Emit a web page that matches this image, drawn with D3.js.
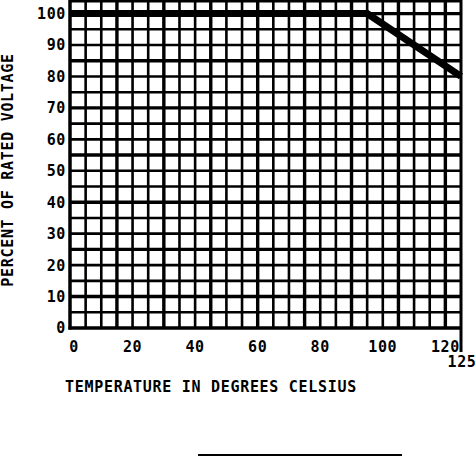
<!DOCTYPE html>
<html>
<head>
<meta charset="utf-8">
<script src="https://cdn.jsdelivr.net/npm/d3@7"></script>
<style>
  body { margin: 0; background: #fff; }
  text { font-family: "DejaVu Sans Mono", "Liberation Mono", monospace; font-weight: bold; fill: #000; }
</style>
</head>
<body>
<div id="chart"></div>
<script>
// Chart data
const tempTicks = [0, 20, 40, 60, 80, 100, 120];
const voltTicks = [0, 10, 20, 30, 40, 50, 60, 70, 80, 90, 100];
const deratingTemp = [0, 95, 125];
const deratingPct = [100, 100, 80];
const xTitle = "TEMPERATURE IN DEGREES CELSIUS";
const yTitle = "PERCENT OF RATED VOLTAGE";

let width = 476;
let height = 458;

let svg = d3.select('#chart')
    .append('svg')
    .attr('width', width)
    .attr('height', height)
    .style('background', '#fff');

// scales: 0..125 C across the grid, 0..104 % up to the top edge
let x = d3.scaleLinear().domain([0, 125]).range([70, 461]);
let y = d3.scaleLinear().domain([0, 104]).range([328, 1]);

// grid, every 5 units, every third line a bit heavier
let gridX = d3.range(5, 125, 5);
let gridY = d3.range(5, 101, 5);

svg.append('g').selectAll('line')
    .data(gridX)
    .enter()
    .append('line')
    .attr('x1', d => x(d))
    .attr('x2', d => x(d))
    .attr('y1', y(104) - 1)
    .attr('y2', y(0))
    .attr('stroke', '#000')
    .attr('stroke-width', d => d % 15 === 0 ? 3.4 : 2.6);

svg.append('g').selectAll('line')
    .data(gridY)
    .enter()
    .append('line')
    .attr('x1', x(0))
    .attr('x2', x(125))
    .attr('y1', d => y(d))
    .attr('y2', d => y(d))
    .attr('stroke', '#000')
    .attr('stroke-width', d => (d - 10) % 15 === 0 ? 3.4 : 2.6);

// top edge of the grid
svg.append('line')
    .attr('x1', x(0)).attr('x2', x(125))
    .attr('y1', y(104)).attr('y2', y(104))
    .attr('stroke', '#000').attr('stroke-width', 3);

// frame: left and bottom axes, right edge runs down past the axis for "125"
svg.append('line')
    .attr('x1', x(0)).attr('x2', x(0))
    .attr('y1', y(104) - 1).attr('y2', y(0) + 1.5)
    .attr('stroke', '#000').attr('stroke-width', 3.5);
svg.append('line')
    .attr('x1', x(0) - 1.5).attr('x2', x(125))
    .attr('y1', y(0)).attr('y2', y(0))
    .attr('stroke', '#000').attr('stroke-width', 3.5);
svg.append('line')
    .attr('x1', x(125)).attr('x2', x(125))
    .attr('y1', y(104) - 1).attr('y2', 352)
    .attr('stroke', '#000').attr('stroke-width', 3);

// derating curve
let line = d3.line()
    .x((d, i) => x(deratingTemp[i]))
    .y((d, i) => y(deratingPct[i]));

svg.append('path')
    .datum(deratingTemp)
    .attr('d', line)
    .attr('fill', 'none')
    .attr('stroke', '#000')
    .attr('stroke-width', 7)
    .attr('stroke-linejoin', 'miter');

// y tick labels
svg.append('g').selectAll('text')
    .data(voltTicks)
    .enter()
    .append('text')
    .attr('x', 66)
    .attr('y', d => y(d))
    .attr('dy', '0.36em')
    .attr('text-anchor', 'end')
    .attr('font-size', 15)
    .attr('letter-spacing', 0.6)
    .text(d => d);

// x tick labels
svg.append('g').selectAll('text')
    .data(tempTicks)
    .enter()
    .append('text')
    .attr('x', d => d === 0 ? x(d) + 4 : x(d))
    .attr('y', 352)
    .attr('text-anchor', 'middle')
    .attr('font-size', 15)
    .attr('letter-spacing', 0.6)
    .text(d => d);

// end value under the right edge
svg.append('text')
    .attr('x', x(125) + 1)
    .attr('y', 367)
    .attr('text-anchor', 'middle')
    .attr('font-size', 15)
    .attr('letter-spacing', 0.6)
    .text(125);

// axis titles
svg.append('text')
    .attr('x', 65)
    .attr('y', 392)
    .attr('font-size', 15)
    .attr('letter-spacing', 0.7)
    .text(xTitle);

svg.append('text')
    .attr('transform', 'translate(13, 170) rotate(-90)')
    .attr('text-anchor', 'middle')
    .attr('font-size', 15)
    .attr('letter-spacing', 0.7)
    .text(yTitle);

// signature rule below the chart
svg.append('line')
    .attr('x1', 198).attr('x2', 402)
    .attr('y1', 455).attr('y2', 455)
    .attr('stroke', '#000').attr('stroke-width', 2);
</script>
</body>
</html>
